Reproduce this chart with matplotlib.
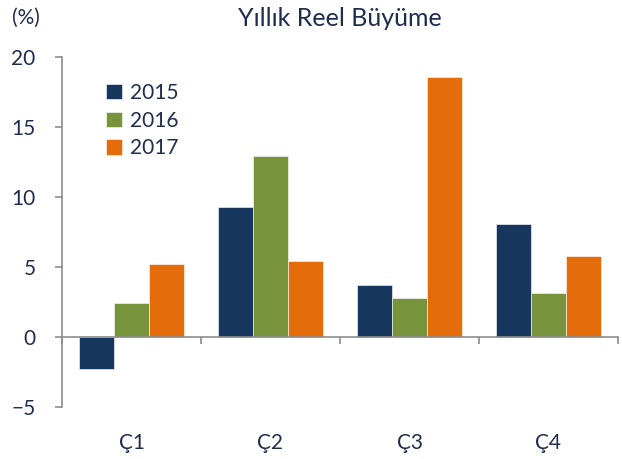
import matplotlib.pyplot as plt
import numpy as np

plt.rcParams['font.family'] = ['Lato', 'DejaVu Sans']

quarters = ['Ç1', 'Ç2', 'Ç3', 'Ç4']
years = ['2015', '2016', '2017']
growth_2015 = [-2.25, 9.3, 3.7, 8.1]
growth_2016 = [2.45, 12.95, 2.8, 3.15]
growth_2017 = [5.25, 5.45, 18.6, 5.8]
colors = ['#17375E', '#77933C', '#E46C0A']

text_color = '#1F2D4E'
axis_color = '#8C8C8C'

fig = plt.figure(figsize=(6.22, 4.59), dpi=100)
ax = fig.add_axes([62 / 622, 1 - 407 / 459, 556 / 622, 350 / 459])

x = np.arange(len(quarters))
width = 0.25
for i, (vals, year) in enumerate(zip([growth_2015, growth_2016, growth_2017], years)):
    ax.bar(x + (i - 1) * width, vals, width, color=colors[i], label=year,
           edgecolor='white', linewidth=0.4)

ax.set_xlim(-0.5, len(quarters) - 0.5)
ax.set_ylim(-5, 20)
ax.set_yticks([-5, 0, 5, 10, 15, 20])

for side in ['top', 'right']:
    ax.spines[side].set_visible(False)
ax.spines['left'].set_color(axis_color)
ax.spines['bottom'].set_color(axis_color)
ax.spines['left'].set_linewidth(1.2)
ax.spines['bottom'].set_linewidth(1.2)
ax.spines['bottom'].set_position(('data', 0))

# category boundaries as ticks, labels on minor ticks
ax.set_xticks(np.arange(len(quarters) + 1) - 0.5)
ax.set_xticklabels([])
ax.set_xticks(x, minor=True)
ax.set_xticklabels(quarters, minor=True)
ax.tick_params(axis='x', which='major', direction='out', length=5,
               color=axis_color, width=1.2)
ax.tick_params(axis='x', which='minor', length=0, pad=69,
               labelsize=15, labelcolor=text_color)
ax.tick_params(axis='y', direction='out', length=5, color=axis_color,
               width=1.2, labelsize=15, labelcolor=text_color, pad=14)

fig.text(340 / 622, 1 - 18 / 459, 'Yıllık Reel Büyüme', ha='center',
         va='center', fontsize=18, color=text_color)
fig.text(12 / 622, 1 - 18 / 459, '(%)', ha='left', va='center',
         fontsize=15, color=text_color)

ax.legend(loc='upper left', bbox_to_anchor=(0.065, 0.95), frameon=False,
          fontsize=15, labelcolor=text_color, handlelength=0.75,
          handleheight=0.75, handletextpad=0.4, labelspacing=0.37,
          borderaxespad=0)

fig.savefig('out.png', dpi=100)
